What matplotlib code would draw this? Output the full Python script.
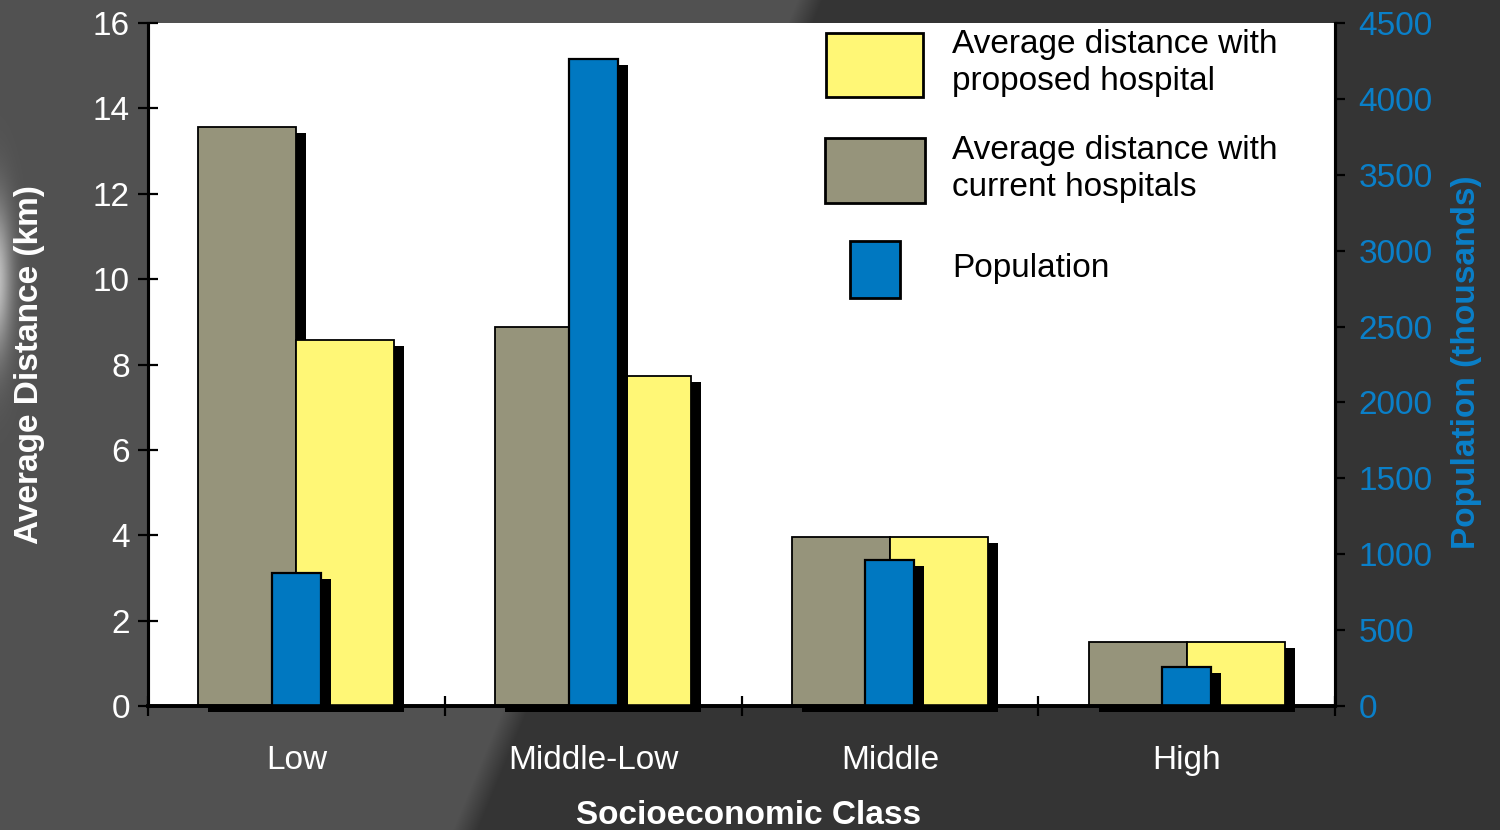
import numpy as np
import matplotlib
matplotlib.use("Agg")
import matplotlib.pyplot as plt
from matplotlib.patches import Rectangle
import matplotlib.transforms as mtransforms

plt.rcParams['font.family'] = ['Liberation Sans', 'DejaVu Sans']

# data
clases = ["Low", "Middle-Low", "Middle", "High"]
dist_actual = [13.56, 8.88, 3.96, 1.50]      # km, current hospitals
dist_propuesto = [8.57, 7.73, 3.96, 1.50]    # km, proposed hospital
poblacion = [877, 4263, 962, 257]            # thousands

gris = "#96947b"
amarillo = "#fff776"
azul = "#0078c1"
azul_txt = "#0a7fc8"
fs = 24

fig = plt.figure(figsize=(15, 8.3), dpi=100)

# fondo oscuro con corte diagonal
fondo = fig.add_axes([0, 0, 1, 1])
fondo.set_axis_off()
yy, xx = np.mgrid[0:830, 0:1500]
corte = 810 - (810 - 465) * yy / 830.0
t = np.clip((xx - corte) / 25.0 + 0.5, 0, 1)
val = 0.318 * (1 - t) + 0.204 * t
brillo = np.exp(-(((xx + 5) / 16.0) ** 2 + ((yy - 280) / 75.0) ** 2))
val = np.clip(val + 0.45 * brillo, 0, 1)
fondo.imshow(np.dstack([val, val, val]), aspect='auto', extent=[0, 1, 0, 1],
             interpolation='bilinear')
fondo.set_xlim(0, 1)
fondo.set_ylim(0, 1)

ax = fig.add_axes([148 / 1500, 1 - 706 / 830, (1335 - 148) / 1500, (706 - 23) / 830])
ax.set_facecolor("white")
ax2 = ax.twinx()

x = np.arange(len(clases))
w = 0.33
wb = 0.165
sombra = ax.transData + mtransforms.ScaledTranslation(0.10, -0.06, fig.dpi_scale_trans)
sombra2 = ax2.transData + mtransforms.ScaledTranslation(0.10, -0.06, fig.dpi_scale_trans)

ax.bar(x - w / 2, dist_actual, w, color="black", transform=sombra, clip_on=False, zorder=1)
ax.bar(x - w / 2, dist_actual, w, color=gris, edgecolor="black", linewidth=1.3, zorder=2)
ax.bar(x + w / 2, dist_propuesto, w, color="black", transform=sombra, clip_on=False, zorder=3)
ax.bar(x + w / 2, dist_propuesto, w, color=amarillo, edgecolor="black", linewidth=1.3, zorder=4)
ax2.bar(x, poblacion, wb, color="black", transform=sombra2, clip_on=False, zorder=1)
ax2.bar(x, poblacion, wb, color=azul, edgecolor="black", linewidth=1.6, zorder=2)

ax.set_xlim(-0.5, 3.5)
ax.set_ylim(0, 16)
ax2.set_ylim(0, 4500)

ax.set_yticks(np.arange(0, 17, 2))
ax2.set_yticks(np.arange(0, 4501, 500))
ax.set_xticks(np.arange(-0.5, 3.6, 1))
ax.set_xticklabels([])
ax.set_xticks(x, minor=True)
ax.set_xticklabels(clases, minor=True)

ax.tick_params(axis='y', direction='inout', length=14, width=1.6, labelsize=fs,
               labelcolor='white', pad=6, color='black')
ax.tick_params(axis='x', which='major', direction='inout', length=14, width=1.6,
               color='black')
ax.tick_params(axis='x', which='minor', length=0, labelsize=fs, labelcolor='white', pad=28)
ax2.tick_params(axis='y', direction='out', length=7, width=1.6, labelsize=fs,
                labelcolor=azul_txt, pad=10, color='black')

for a in (ax, ax2):
    a.spines['top'].set_visible(False)
    a.spines['left'].set_linewidth(2.2)
    a.spines['right'].set_linewidth(2.2)
    a.spines['bottom'].set_linewidth(2.6)

ax.set_ylabel("Average Distance (km)", color='white', fontsize=fs, fontweight='bold', va='center')
ax.yaxis.set_label_coords((30 - 148) / 1187, 0.5)
ax2.set_ylabel("Population (thousands)", color=azul_txt, fontsize=fs, fontweight='bold', va='center')
ax2.yaxis.set_label_coords((1466 - 148) / 1187, 0.503)
ax.set_xlabel("Socioeconomic Class", color='white', fontsize=fs, fontweight='bold', va='center')
ax.xaxis.set_label_coords(0.506, (706 - 815) / 683)

# leyenda manual
def caja(x0, x1, y0, y1, color):
    r = Rectangle((x0 / 1500, 1 - y1 / 830), (x1 - x0) / 1500, (y1 - y0) / 830,
                  transform=fig.transFigure, facecolor=color, edgecolor='black',
                  linewidth=2, zorder=10)
    fig.patches.append(r)

caja(826, 923, 33, 97, amarillo)
caja(825, 925, 138, 203, gris)
caja(850, 900, 241, 298, azul)
etiquetas = ["Average distance with\nproposed hospital",
             "Average distance with\ncurrent hospitals",
             "Population"]
for txt, yc in zip(etiquetas, [63, 169, 268]):
    fig.text(952 / 1500, 1 - yc / 830, txt, fontsize=fs, va='center', ha='left',
             color='black', linespacing=1.25, zorder=11)

fig.savefig("out.png", dpi=100)
